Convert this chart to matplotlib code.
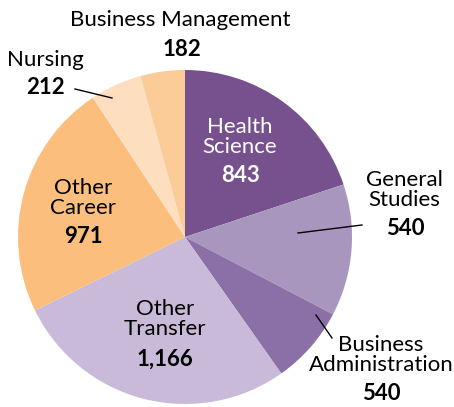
import matplotlib.pyplot as plt

plt.rcParams["font.family"] = ["Lato", "DejaVu Sans"]

# wedge sizes as drawn (Business Administration slice is drawn smaller than its 540 label)
programs = [
    "Health\nScience",
    "General\nStudies",
    "Business\nAdministration",
    "Other\nTransfer",
    "Other\nCareer",
    "Nursing",
    "Business Management",
]
wedge_sizes = [843, 540, 320, 1166, 971, 212, 182]
count_labels = ["843", "540", "540", "1,166", "971", "212", "182"]
colors = ["#76518E", "#A996BF", "#8B6FA7", "#C8BAD8", "#FBBE7D", "#FDDEBF", "#FBCB98"]

# pixel layout of the reference (center 185,237; radius 167)
CX, CY, R = 185, 237, 167
W, H = 454, 407

# name centre (px), number centre (px), text color
label_layout = [
    ((240, 137), (240, 176), "white"),
    ((404, 190), (405, 229), "black"),
    ((381, 355), (381, 393), "black"),
    ((165, 319), (165, 359), "black"),
    ((83, 198), (83, 237), "black"),
    ((45, 60), (45, 88), "black"),
    ((180, 20), (182, 50), "black"),
]
leader_lines = [
    ((298, 233), (362, 225)),
    ((316, 315), (332, 338)),
    ((75, 89), (112, 98)),
]


def to_data(px, py):
    return (px - CX) / R, (CY - py) / R


fig = plt.figure(figsize=(W / 100, H / 100), dpi=100)
ax = fig.add_axes([0, 0, 1, 1])

ax.pie(
    wedge_sizes,
    colors=colors,
    startangle=90,
    counterclock=False,
    radius=1,
    center=(0, 0),
    wedgeprops={"linewidth": 0},
    frame=True,
)

for name, count, (name_pos, count_pos, color) in zip(programs, count_labels, label_layout):
    ax.text(*to_data(*name_pos), name, ha="center", va="center",
            fontsize=16, color=color, linespacing=1.02)
    ax.text(*to_data(*count_pos), count, ha="center", va="center",
            fontsize=16, fontweight="bold", color=color)

for start, end in leader_lines:
    x0, y0 = to_data(*start)
    x1, y1 = to_data(*end)
    ax.plot([x0, x1], [y0, y1], color="black", linewidth=1)

ax.set_xlim(-CX / R, (W - CX) / R)
ax.set_ylim(-(H - CY) / R, CY / R)
ax.set_aspect("auto")
ax.axis("off")

fig.savefig("out.png", dpi=100)
